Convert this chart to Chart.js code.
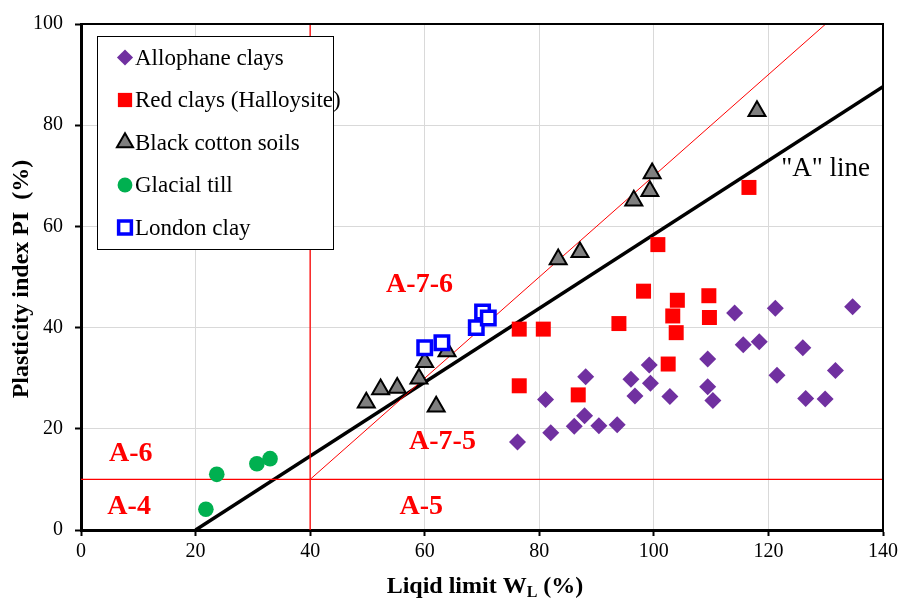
<!DOCTYPE html>
<html>
<head>
<meta charset="utf-8">
<script src="https://cdn.jsdelivr.net/npm/chart.js@4.4.1/dist/chart.umd.min.js"></script>
<style>
  body { margin: 0; background: #fff; }
  canvas { display: block; }
</style>
</head>
<body>
<canvas id="plasticity-chart" width="902" height="601"></canvas>
<script>
// Liquid limit (x) and plasticity index (y) for each soil group
const allophaneLL = [76.2, 81.1, 82.0, 88.1, 87.9, 86.1, 90.4, 93.6, 96.0, 96.7, 99.2, 99.4, 102.8, 109.4, 109.4, 110.3, 114.1, 115.6, 118.4, 121.2, 121.5, 126.0, 126.5, 129.9, 131.7, 134.7]
const allophanePI = [17.4, 25.8, 19.2, 30.3, 22.6, 20.5, 20.6, 20.8, 29.8, 26.5, 32.6, 29.0, 26.4, 33.8, 28.3, 25.6, 42.9, 36.6, 37.2, 43.8, 30.6, 36.0, 26.0, 25.9, 31.5, 44.1]

const redClayLL = [76.5, 80.7, 76.5, 86.8, 93.9, 98.2, 104.1, 103.3, 103.9, 109.6, 109.7, 102.5, 100.7, 116.6]
const redClayPI = [39.7, 39.7, 28.5, 26.7, 40.8, 47.2, 45.4, 42.3, 39.0, 46.3, 42.0, 32.8, 56.4, 67.7]

const blackCottonLL = [49.8, 52.3, 55.2, 59.0, 60.0, 62.0, 63.9, 83.3, 87.1, 96.5, 99.3, 99.7, 118.0]
const blackCottonPI = [25.2, 27.8, 28.1, 29.9, 33.2, 24.4, 35.3, 53.5, 54.9, 65.1, 67.0, 70.5, 82.8]

const glacialTillLL = [21.8, 23.7, 30.7, 33.0]
const glacialTillPI = [4.1, 11.0, 13.1, 14.1]

const londonClayLL = [60.0, 63.0, 69.0, 70.1, 71.1]
const londonClayPI = [36.0, 37.0, 40.0, 43.1, 41.9]

// "A" line PI = 0.73 (LL - 20) and the AASHTO group boundaries
const aLineLL = [20, 140]
const aLinePI = [0, 87.6]
const boundaryVertLL = [40, 40]
const boundaryVertPI = [0, 100]
const boundaryHorzLL = [0, 140]
const boundaryHorzPI = [10, 10]
const boundaryDiagLL = [40, 130]
const boundaryDiagPI = [10, 100]

const xTicks = [0, 20, 40, 60, 80, 100, 120, 140]
const yTicks = [0, 20, 40, 60, 80, 100]

const zoneLabels = [
    { text: 'A-7-6', x: 59.1, y: 48.4 },
    { text: 'A-7-5', x: 63.1, y: 17.5 },
    { text: 'A-6', x: 8.7, y: 15.1 },
    { text: 'A-4', x: 8.4, y: 4.5 },
    { text: 'A-5', x: 59.4, y: 4.5 }
]

const serif = "'Liberation Serif', 'Times New Roman', serif"

function toPoints(xs, ys) {
    return xs.map((x, i) => ({ x: x, y: ys[i] }))
}

function lineSet(xs, ys, color, width) {
    return {
        label: '',
        data: toPoints(xs, ys),
        showLine: true,
        borderColor: color,
        borderWidth: width,
        pointRadius: 0,
        fill: false,
        order: 10,
        inLegend: false
    }
}

const datasets = [
    lineSet(boundaryVertLL, boundaryVertPI, '#ff0000', 1.3),
    lineSet(boundaryHorzLL, boundaryHorzPI, '#ff0000', 1.3),
    lineSet(boundaryDiagLL, boundaryDiagPI, '#ff0000', 1),
    lineSet(aLineLL, aLinePI, '#000000', 3.5),
    {
        label: 'Allophane clays',
        data: toPoints(allophaneLL, allophanePI),
        pointStyle: 'rectRot',
        pointRadius: 8.5,
        backgroundColor: '#7030a0',
        borderColor: '#7030a0',
        borderWidth: 0,
        order: 4
    },
    {
        label: 'Red clays (Halloysite)',
        data: toPoints(redClayLL, redClayPI),
        pointStyle: 'rect',
        pointRadius: 10.6,
        backgroundColor: '#ff0000',
        borderColor: '#ff0000',
        borderWidth: 0,
        order: 3
    },
    {
        label: 'Black cotton soils',
        data: toPoints(blackCottonLL, blackCottonPI),
        pointStyle: 'triangle',
        pointRadius: 9.8,
        backgroundColor: '#7f7f7f',
        borderColor: '#000000',
        borderWidth: 2,
        order: 2
    },
    {
        label: 'Glacial till',
        data: toPoints(glacialTillLL, glacialTillPI),
        pointStyle: 'circle',
        pointRadius: 7.8,
        backgroundColor: '#00b050',
        borderColor: '#00b050',
        borderWidth: 0,
        order: 1
    },
    {
        label: 'London clay',
        data: toPoints(londonClayLL, londonClayPI),
        pointStyle: 'rect',
        pointRadius: 9.5,
        backgroundColor: '#ffffff',
        borderColor: '#0000ff',
        borderWidth: 3.5,
        order: 0
    }
]

// frame, annotations, axis titles and the boxed legend
const decorations = {
    id: 'decorations',
    afterDraw(chart) {
        const ctx = chart.ctx
        const area = chart.chartArea
        const xs = chart.scales.x
        const ys = chart.scales.y
        ctx.save()

        // top and right frame
        ctx.strokeStyle = '#000'
        ctx.lineWidth = 2
        ctx.beginPath()
        ctx.moveTo(area.left, area.top)
        ctx.lineTo(area.right, area.top)
        ctx.lineTo(area.right, area.bottom)
        ctx.stroke()

        // zone labels
        ctx.fillStyle = '#ff0000'
        ctx.font = 'bold 28px ' + serif
        ctx.textAlign = 'center'
        ctx.textBaseline = 'middle'
        zoneLabels.forEach(z => {
            ctx.fillText(z.text, xs.getPixelForValue(z.x), ys.getPixelForValue(z.y))
        })

        // "A" line label
        ctx.fillStyle = '#000'
        ctx.font = '27px ' + serif
        ctx.fillText('"A" line', xs.getPixelForValue(130), ys.getPixelForValue(71.4))

        // y axis title
        ctx.save()
        ctx.translate(22, 279)
        ctx.rotate(-Math.PI / 2)
        ctx.font = 'bold 24px ' + serif
        ctx.fillText('Plasticity index PI  (%)', 0, 0)
        ctx.restore()

        // x axis title with subscript
        ctx.textBaseline = 'alphabetic'
        ctx.textAlign = 'left'
        const mainFont = 'bold 24px ' + serif
        const subFont = 'bold 16px ' + serif
        const part1 = 'Liqid limit W'
        const part2 = 'L'
        const part3 = ' (%)'
        ctx.font = mainFont
        const w1 = ctx.measureText(part1).width
        const w3 = ctx.measureText(part3).width
        ctx.font = subFont
        const w2 = ctx.measureText(part2).width
        let tx = 485 - (w1 + w2 + w3) / 2
        const baseY = 593
        ctx.font = mainFont
        ctx.fillText(part1, tx, baseY)
        tx += w1
        ctx.font = subFont
        ctx.fillText(part2, tx, baseY + 4)
        tx += w2
        ctx.font = mainFont
        ctx.fillText(part3, tx, baseY)

        // legend box
        const box = { left: 97, top: 36, right: 333, bottom: 249 }
        ctx.fillStyle = '#fff'
        ctx.fillRect(box.left, box.top, box.right - box.left, box.bottom - box.top)
        ctx.strokeStyle = '#000'
        ctx.lineWidth = 1
        ctx.strokeRect(box.left + 0.5, box.top + 0.5, box.right - box.left, box.bottom - box.top)

        const entries = chart.data.datasets.filter(d => d.inLegend !== false)
        entries.forEach((d, i) => {
            const cy = 57.5 + i * 42.5
            ctx.fillStyle = d.backgroundColor
            ctx.strokeStyle = d.borderColor
            ctx.lineWidth = d.borderWidth
            Chart.helpers.drawPoint(ctx, {
                pointStyle: d.pointStyle,
                radius: d.pointRadius * 0.95,
                rotation: 0,
                borderWidth: d.borderWidth
            }, 125, cy)
            ctx.fillStyle = '#000'
            ctx.font = '23px ' + serif
            ctx.textAlign = 'left'
            ctx.textBaseline = 'middle'
            ctx.fillText(d.label, 135, cy + 1)
        })

        ctx.restore()
    }
}

const config = {
    type: 'scatter',
    data: { datasets: datasets },
    options: {
        responsive: false,
        animation: false,
        devicePixelRatio: 1,
        layout: { padding: { left: 0, top: 21, right: 16, bottom: 0 } },
        plugins: {
            legend: { display: false },
            tooltip: { enabled: false }
        },
        scales: {
            x: {
                type: 'linear',
                min: 0,
                max: 140,
                afterFit: scale => { scale.height = 71 },
                afterBuildTicks: scale => { scale.ticks = xTicks.map(v => ({ value: v })) },
                ticks: {
                    color: '#000',
                    padding: 4,
                    font: { family: serif, size: 20 }
                },
                grid: {
                    color: '#d9d9d9',
                    lineWidth: 1,
                    tickColor: '#000',
                    tickLength: 6,
                    tickWidth: 2
                },
                border: { color: '#000', width: 3 }
            },
            y: {
                type: 'linear',
                min: 0,
                max: 100,
                afterFit: scale => { scale.width = 81 },
                afterBuildTicks: scale => { scale.ticks = yTicks.map(v => ({ value: v })) },
                ticks: {
                    color: '#000',
                    padding: 12,
                    font: { family: serif, size: 20 }
                },
                grid: {
                    color: '#d9d9d9',
                    lineWidth: 1,
                    tickColor: '#000',
                    tickLength: 6,
                    tickWidth: 2
                },
                border: { color: '#000', width: 3 }
            }
        }
    },
    plugins: [decorations]
}

new Chart(document.getElementById('plasticity-chart').getContext('2d'), config)
</script>
</body>
</html>
